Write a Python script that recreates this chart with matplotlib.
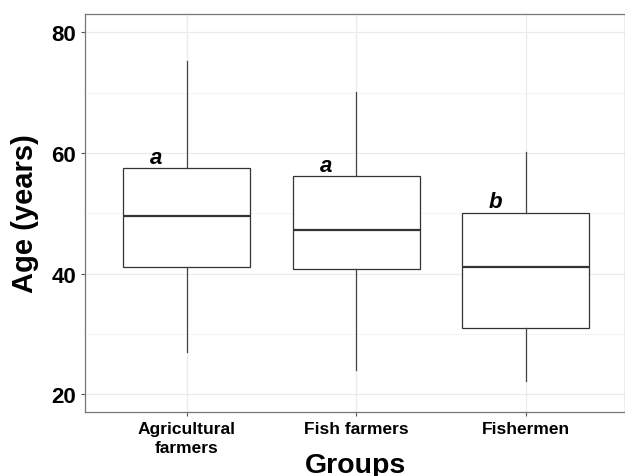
import matplotlib
matplotlib.use('Agg')
import matplotlib.pyplot as plt

# values
groups = ['Agricultural\nfarmers', 'Fish farmers', 'Fishermen']
whisker_low = [27.1, 24.1, 22.2]
q1 = [41.1, 40.8, 31.0]
median = [49.6, 47.2, 41.1]
q3 = [57.5, 56.1, 50.0]
whisker_high = [75.2, 70.1, 60.1]

letters = ['a', 'a', 'b']
letter_y = [59.2, 57.9, 52.0]

plt.rcParams['font.family'] = ['Liberation Sans', 'DejaVu Sans']

fig = plt.figure(figsize=(6.25, 4.77), dpi=100)
ax = fig.add_axes([85/625, 1 - 413/477, 540/625, 398/477])

stats = [
    {'whislo': whisker_low[i], 'q1': q1[i], 'med': median[i],
     'q3': q3[i], 'whishi': whisker_high[i], 'fliers': []}
    for i in range(len(groups))
]
positions = [1, 2, 3]
ax.bxp(stats, positions=positions, widths=0.75, showcaps=False, showfliers=False,
       patch_artist=True,
       boxprops={'facecolor': 'white', 'edgecolor': '#333333', 'linewidth': 0.9},
       whiskerprops={'color': '#444444', 'linewidth': 0.9},
       medianprops={'color': '#333333', 'linewidth': 1.6})

for x, lab, y in zip(positions, letters, letter_y):
    ax.text(x - 0.18, y, lab, ha='center', va='center', fontsize=16,
            fontweight='bold', fontstyle='italic')

ax.set_xlim(0.4, 3.586)
ax.set_ylim(17.1, 83.0)
ax.set_yticks([20, 40, 60, 80])
ax.set_yticks([30, 50, 70], minor=True)
ax.set_xticks(positions)
ax.set_xticklabels(groups, fontsize=12.5, fontweight='bold', linespacing=1.35)
ax.tick_params(axis='y', labelsize=16, length=3, color='#555555', width=0.8)
ax.tick_params(axis='x', length=3, color='#555555', width=0.8)
for lbl in ax.get_yticklabels():
    lbl.set_fontweight('bold')
ax.tick_params(axis='y', which='minor', length=0)

ax.grid(which='major', color='#ebebeb', linewidth=0.9)
ax.grid(which='minor', axis='y', color='#f2f2f2', linewidth=0.6)
ax.set_axisbelow(True)

for side in ['left', 'bottom', 'top', 'right']:
    ax.spines[side].set_color('#777777')
    ax.spines[side].set_linewidth(0.9)

ax.set_xlabel('Groups', fontsize=20.5, fontweight='bold', labelpad=-2)
ax.set_ylabel('Age (years)', fontsize=21, fontweight='bold', labelpad=9)

fig.savefig('out.png', dpi=100)
